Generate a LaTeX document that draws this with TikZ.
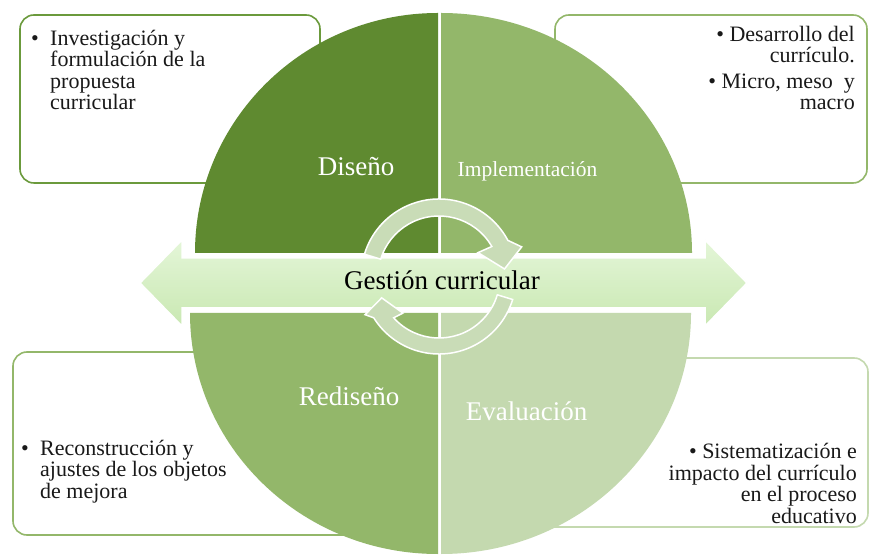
\documentclass[tikz,border=0pt]{standalone}
\usepackage{fontspec}
\setmainfont{Liberation Serif}
\usetikzlibrary{calc}

\definecolor{verdeOscuro}{HTML}{5F8A30}
\definecolor{bordeDiseno}{HTML}{6B9A3C}
\definecolor{verdeMedio}{HTML}{93B76A}
\definecolor{verdeClaro}{HTML}{C4D9AF}
\definecolor{verdeAro}{HTML}{C9DCB7}
\definecolor{bandaArriba}{HTML}{E4F6D8}
\definecolor{bandaAbajo}{HTML}{C9E8B2}

\newcommand\vineta{\makebox[19pt][l]{\textbullet}}
\newcommand\sangria{\hspace*{19pt}}

\begin{document}
\begin{tikzpicture}[x=1pt,y=1pt,
  caja/.style={rounded corners=14pt,line width=1.6pt,fill=white},
  cuadrante/.style={text=white,font=\fontsize{27}{30}\selectfont,anchor=base},
  texto/.style={text=black!90,font=\fontsize{22}{21.5}\selectfont,inner sep=0pt},
  aro/.style={fill=verdeAro,draw=white,line width=1.5pt}]
\path[use as bounding box,fill=white] (0,0) rectangle (890,554);
\draw[caja,draw=bordeDiseno] (20,371) rectangle (320,539);
\draw[caja,draw=verdeMedio] (555,371) rectangle (867,539);
\draw[caja,draw=verdeMedio] (13,19) rectangle (360,202);
\draw[caja,draw=verdeClaro] (530,27) rectangle (868,196);
\fill[verdeOscuro] (438,301) -- (195,301) arc[start angle=180,end angle=90,x radius=243,y radius=240] -- cycle;
\fill[verdeMedio] (441,301) -- (441,541) arc[start angle=90,end angle=0,x radius=251,y radius=240] -- cycle;
\fill[verdeMedio] (438,241) -- (190,241) arc[start angle=180,end angle=270,x radius=248,y radius=241] -- cycle;
\fill[verdeClaro] (441,241) -- (441,0) arc[start angle=270,end angle=360,x radius=250,y radius=241] -- cycle;
\draw[draw=white,line width=1.5pt,top color=bandaArriba,bottom color=bandaAbajo]
(140,271) -- (182,314) -- (182,296) -- (705,296) -- (705,314) -- (747,271) --
(705,228) -- (705,246) -- (182,246) -- (182,228) -- cycle;
\coordinate (centro) at (439,277);
\draw[aro] ($(centro)+(163:78)$) arc[start angle=163,end angle=28,radius=78] -- ($(centro)+(20:88)$) --
($(centro)+(7:66)$) -- ($(centro)+(32:46)$) -- ($(centro)+(30:61)$) arc[start angle=30,end angle=163,radius=61] -- cycle;
\draw[aro] ($(centro)+(-17:77)$) arc[start angle=-17,end angle=-148,radius=77] -- ($(centro)+(-153:83)$) --
($(centro)+(-160:61)$) -- ($(centro)+(-135:51)$) -- ($(centro)+(-138:61)$) arc[start angle=-138,end angle=-17,radius=61] -- cycle;
\node[cuadrante] (diseno) at (356,378) {Diseño};
\node[cuadrante,font=\fontsize{21.5}{24}\selectfont] (implementacion) at (527.5,377) {Implementación};
\node[cuadrante] (rediseno) at (349,149) {Rediseño};
\node[cuadrante] (evaluacion) at (526.5,134) {Evaluación};
\node[anchor=base,font=\fontsize{27}{30}\selectfont] (gestion) at (442,264) {Gestión curricular};
\node[texto,anchor=base west,align=left] (investigacion) at (31,444)
{\vineta Investigación y\\\sangria formulación de la\\\sangria propuesta\\\sangria curricular};
\node[texto,anchor=base east,align=right] (desarrollo) at (855,444)
{\textbullet\ Desarrollo del\\currículo.\\[4pt]\textbullet\ Micro, meso\ \ y\\macro};
\node[texto,anchor=base west,align=left] (reconstruccion) at (21,56)
{\vineta Reconstrucción y\\\sangria ajustes de los objetos\\\sangria de mejora};
\node[texto,anchor=base east,align=right] (sistematizacion) at (857,31)
{\textbullet\ Sistematización e\\impacto del currículo\\en el proceso\\educativo};
\end{tikzpicture}
\end{document}
